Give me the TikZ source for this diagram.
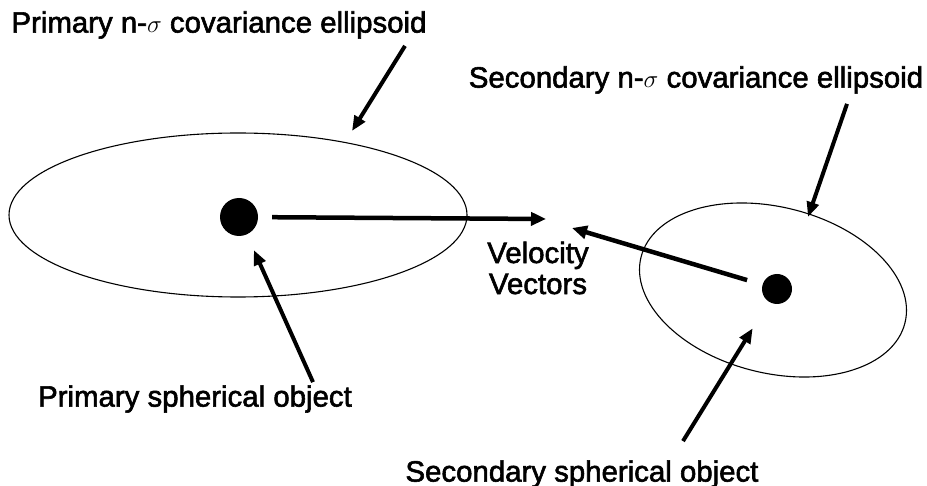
\documentclass[tikz,border=0pt]{standalone}
\usepackage{fontspec}
\setmainfont{Liberation Sans}
\newfontfamily\lblfont[FakeBold=2]{Liberation Sans}
\usepackage{tikz}
\usetikzlibrary{arrows.meta,positioning}

\begin{document}
\begin{tikzpicture}[x=1pt, y=-1pt,
    lbl/.style={font=\lblfont\fontsize{29.4}{31}\selectfont, align=center, inner sep=3pt},
    ball/.style={circle, fill=black, inner sep=0pt},
    cov/.style={line width=1.1pt},
    vel/.style={-{Triangle[length=15pt, width=13pt]}, line width=4.5pt},
    ptr/.style={-{Triangle[length=15pt, width=12pt]}, line width=4pt},
  ]
    \useasboundingbox (0,0) rectangle (927,486);

    % covariance ellipsoids
    \draw[cov] (238,215) ellipse [x radius=229, y radius=82];
    \draw[cov, rotate around={-14:(773,290)}] (773,290) ellipse [x radius=136, y radius=83];

    % spherical objects
    \node[ball, minimum size=38pt] (pobj) at (239,217) {};
    \node[ball, minimum size=30pt] (sobj) at (777,289) {};

    % labels
    \node[lbl] (plab) at (219,25)  {Primary n-$\sigma$ covariance ellipsoid};
    \node[lbl] (slab) at (696,80)  {Secondary n-$\sigma$ covariance ellipsoid};
    \node[lbl] (vlab) at (538,268) {Velocity\\Vectors};
    \node[lbl] (pso)  at (195,399) {Primary spherical object};
    \node[lbl] (sso)  at (582,474) {Secondary spherical object};

    \coordinate (ptip) at (546,219);
    \coordinate (stip) at (572,228);
    \coordinate (ptop) at (352,131);
    \coordinate (sedge) at (808,217);

    % velocity vectors
    \draw[vel, shorten <=14pt] (pobj) -- (ptip);
    \draw[vel, shorten <=16pt] (sobj) -- (stip);

    % pointers
    \draw[ptr] ([xshift=186pt, yshift=-4pt]plab.south) -- (ptop);
    \draw[ptr] ([xshift=151pt, yshift=-7pt]slab.south) -- (sedge);
    \draw[ptr, shorten >=17pt] ([xshift=118pt]pso.north) -- (pobj);
    \draw[ptr, shorten >=31pt] ([xshift=101pt, yshift=16pt]sso.north) -- (sobj);
  \end{tikzpicture}
\end{document}
